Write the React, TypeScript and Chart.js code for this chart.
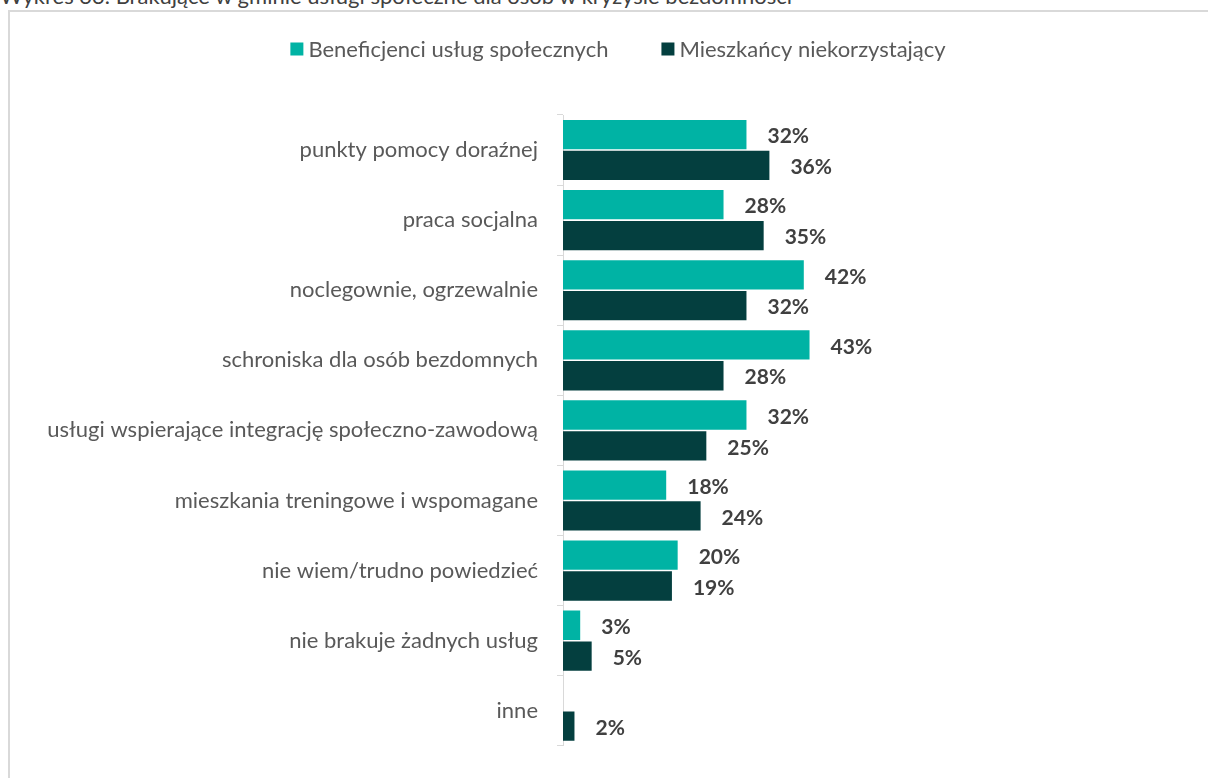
import React, { useEffect, useRef } from "react";
import { Chart, registerables } from "chart.js";

Chart.register(...registerables);

const titleText = "Wykres 33. Brakujące w gminie usługi społeczne dla osób w kryzysie bezdomności";
const categories = [
  "punkty pomocy doraźnej",
  "praca socjalna",
  "noclegownie, ogrzewalnie",
  "schroniska dla osób bezdomnych",
  "usługi wspierające integrację społeczno-zawodową",
  "mieszkania treningowe i wspomagane",
  "nie wiem/trudno powiedzieć",
  "nie brakuje żadnych usług",
  "inne",
];
const seriesNames = ["Beneficjenci usług społecznych", "Mieszkańcy niekorzystający"];
const beneficiaries = [32, 28, 42, 43, 32, 18, 20, 3, 0];
const residents = [36, 35, 32, 28, 25, 24, 19, 5, 2];
const seriesColors = ["#00B3A4", "#043F3F"];

const FONT = "Lato, 'Open Sans', sans-serif";

const legendPlugin = {
  id: "customLegend",
  afterDraw(chart: any) {
    const ctx = chart.ctx;
    ctx.save();
    ctx.font = `22px ${FONT}`;
    const box = 13;
    const gapBoxText = 5;
    const gapItems = 53;
    const items = chart.data.datasets.map((d: any) => ({
      label: d.label,
      color: d.backgroundColor,
      w: box + gapBoxText + ctx.measureText(d.label).width,
    }));
    const total = items.reduce((s: number, it: any) => s + it.w, 0) + gapItems * (items.length - 1);
    let x = 618 - total / 2;
    const cy = 49;
    items.forEach((it: any) => {
      ctx.fillStyle = it.color;
      ctx.fillRect(x, cy - box / 2, box, box);
      ctx.fillStyle = "#595959";
      ctx.textBaseline = "middle";
      ctx.textAlign = "left";
      ctx.fillText(it.label, x + box + gapBoxText, cy + 1);
      x += it.w + gapItems;
    });
    ctx.restore();
  },
};

const valueLabelPlugin = {
  id: "valueLabels",
  afterDatasetsDraw(chart: any) {
    const ctx = chart.ctx;
    ctx.save();
    ctx.font = `bold 21px ${FONT}`;
    ctx.fillStyle = "#404040";
    ctx.textBaseline = "middle";
    ctx.textAlign = "left";
    chart.data.datasets.forEach((ds: any, di: number) => {
      const meta = chart.getDatasetMeta(di);
      meta.data.forEach((el: any, i: number) => {
        const v = ds.data[i];
        if (!v) return;
        ctx.fillText(`${v}%`, el.x + 21, el.y + 2);
      });
    });
    ctx.restore();
  },
};

export default function App() {
  const ref = useRef<HTMLCanvasElement | null>(null);
  useEffect(() => {
    if (!ref.current) return;
    const chart = new Chart(ref.current, {
      type: "bar",
      data: {
        labels: categories,
        datasets: [
          { label: seriesNames[0], data: beneficiaries, backgroundColor: seriesColors[0], categoryPercentage: 0.88, barPercentage: 0.95 },
          { label: seriesNames[1], data: residents, backgroundColor: seriesColors[1], categoryPercentage: 0.88, barPercentage: 0.95 },
        ],
      },
      options: {
        indexAxis: "y",
        responsive: false,
        animation: false,
        layout: { padding: { top: 115, bottom: 27, left: 0, right: 301 } },
        plugins: { legend: { display: false }, tooltip: { enabled: false }, title: { display: false } },
        scales: {
          x: { display: false, min: 0, max: 60 },
          y: {
            afterFit: (s: any) => {
              s.width = 563;
            },
            grid: { drawOnChartArea: false, tickLength: 6, color: "#d9d9d9", offset: true },
            border: { color: "#d9d9d9", width: 1 },
            ticks: { padding: 19, color: "#595959", font: { family: FONT, size: 22 } },
          },
        },
      },
      plugins: [legendPlugin, valueLabelPlugin],
    } as any);
    return () => chart.destroy();
  }, []);

  return (
    <div style={{ position: "fixed", left: 0, top: 0, width: 1208, height: 778, overflow: "hidden", background: "#fff" }}>
      <div
        style={{
          position: "absolute",
          left: 0,
          top: -15,
          fontFamily: FONT,
          fontSize: 22,
          lineHeight: "22px",
          color: "#404040",
          whiteSpace: "nowrap",
        }}
      >
        {titleText}
      </div>
      <div
        style={{
          position: "absolute",
          left: 8,
          top: 10,
          width: 1300,
          height: 900,
          borderTop: "2px solid #d9d9d9",
          borderLeft: "2px solid #d9d9d9",
        }}
      />
      <canvas ref={ref} width={1208} height={778} style={{ position: "absolute", left: 0, top: 0 }} />
    </div>
  );
}
